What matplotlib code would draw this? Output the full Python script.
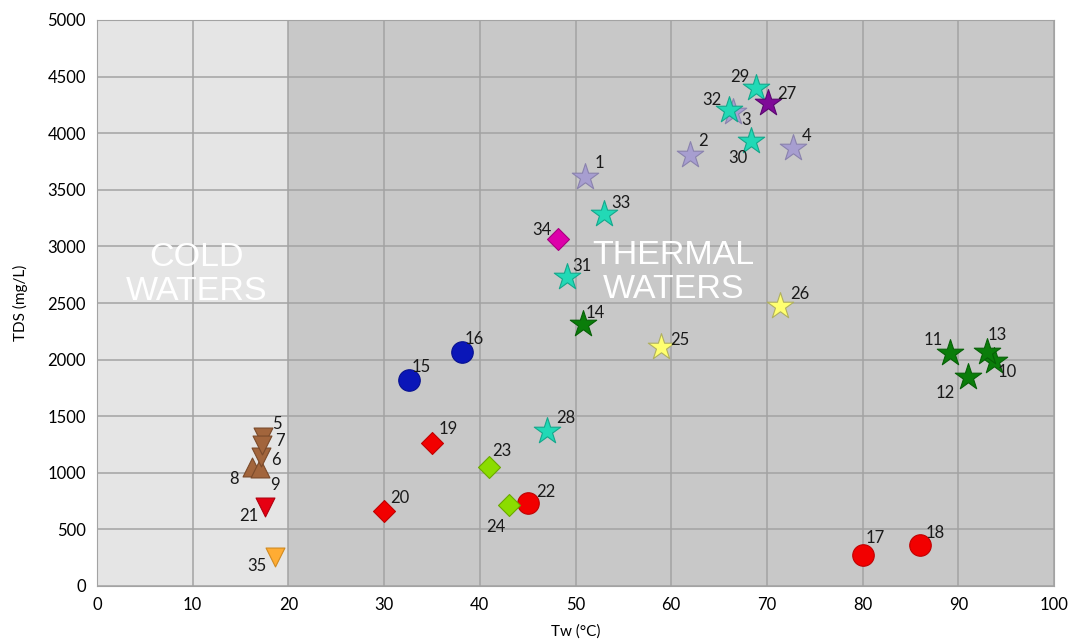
import matplotlib
matplotlib.use("Agg")
import matplotlib.pyplot as plt

# ---- data ----
sample_ids = [1, 2, 3, 4, 5, 6, 7, 8, 9, 10, 11, 12, 13, 14, 15, 16, 17, 18,
              19, 20, 21, 22, 23, 24, 25, 26, 27, 28, 29, 30, 31, 32, 33, 34, 35]
tw = [51.0, 62.0, 66.5, 72.7, 17.3, 17.1, 17.2, 16.2, 17.0, 93.7, 89.1, 91.0,
      93.0, 50.8, 32.6, 38.1, 80.0, 86.0, 35.0, 30.0, 17.6, 45.0, 41.0, 43.1,
      58.9, 71.4, 70.1, 47.0, 68.9, 68.3, 49.1, 66.0, 53.0, 48.2, 18.6]
tds = [3610, 3807, 4190, 3867, 1320, 1140, 1245, 1054, 1040, 1990, 2061, 1843,
       2070, 2314, 1820, 2070, 274, 362, 1266, 665, 700, 736, 1054, 716,
       2111, 2473, 4264, 1372, 4397, 3931, 2732, 4205, 3286, 3063, 259]
group = ["lav", "lav", "lav", "lav", "brown_dn", "brown_dn", "brown_dn", "brown_up",
         "brown_up", "green_star", "green_star", "green_star", "green_star",
         "green_star", "blue_circ", "blue_circ", "red_circ", "red_circ",
         "red_diam", "red_diam", "red_tri", "red_circ", "lime_diam", "lime_diam",
         "yellow_star", "yellow_star", "purple_star", "teal", "teal", "teal",
         "teal", "teal", "teal", "magenta_diam", "orange_tri"]

x_ticks = [0, 10, 20, 30, 40, 50, 60, 70, 80, 90, 100]
y_ticks = [0, 500, 1000, 1500, 2000, 2500, 3000, 3500, 4000, 4500, 5000]

# ---- styles ----
styles = {
    "lav":          dict(marker="*", s=400, fc="#a79ed0", ec="#8a82ad"),
    "teal":         dict(marker="*", s=400, fc="#22d9b6", ec="#14a88c"),
    "green_star":   dict(marker="*", s=400, fc="#0a7d0a", ec="#066006"),
    "yellow_star":  dict(marker="*", s=400, fc="#ffff70", ec="#b0b060"),
    "purple_star":  dict(marker="*", s=400, fc="#7f0a98", ec="#5a0670"),
    "blue_circ":    dict(marker="o", s=240, fc="#0a16b8", ec="#061090"),
    "red_circ":     dict(marker="o", s=240, fc="#f20000", ec="#c00000"),
    "red_diam":     dict(marker="D", s=125, fc="#f20000", ec="#c00000"),
    "lime_diam":    dict(marker="D", s=125, fc="#8bdc00", ec="#6aa800"),
    "magenta_diam": dict(marker="D", s=125, fc="#dd00aa", ec="#a80080"),
    "red_tri":      dict(marker="v", s=185, fc="#e60012", ec="#b0000e"),
    "orange_tri":   dict(marker="v", s=185, fc="#ffac33", ec="#d08a20"),
    "brown_dn":     dict(marker="v", s=185, fc="#a2653c", ec="#7a4a2a"),
    "brown_up":     dict(marker="^", s=185, fc="#a2653c", ec="#7a4a2a"),
}
draw_order = ["brown_up", "brown_dn", "red_tri", "orange_tri", "blue_circ",
              "red_circ", "red_diam", "lime_diam", "magenta_diam", "lav",
              "green_star", "yellow_star", "teal", "purple_star"]

# label offsets in points (dx, dy)
label_off = {1: (10, 10), 2: (9, 10), 3: (9, -6), 4: (10, 9), 5: (10, 9),
             6: (11, -2), 7: (13, 3), 8: (-13, -9), 9: (11, -12), 10: (10, -8),
             11: (-12, 9), 12: (-16, -11), 13: (7, 12), 14: (9, 8), 15: (9, 9),
             16: (9, 9), 17: (9, 12), 18: (11, 9), 19: (12, 10), 20: (11, 9),
             21: (-12, -7), 22: (13, 8), 23: (9, 11), 24: (-10, -16), 25: (14, 5),
             26: (14, 9), 27: (14, 7), 28: (14, 9), 29: (-12, 8), 30: (-9, -12),
             31: (11, 8), 32: (-12, 7), 33: (12, 8), 34: (-12, 7), 35: (-13, -7)}

plt.rcParams["font.family"] = ["Lato", "DejaVu Sans"]

fig = plt.figure(figsize=(10.70, 6.41), dpi=100)
ax = fig.add_axes([97 / 1070, 55 / 641, (1054 - 97) / 1070, (586 - 20) / 641])

ax.set_xlim(0, 100)
ax.set_ylim(0, 5000)
ax.axvspan(0, 20, color="#e5e5e5", zorder=0, lw=0)
ax.axvspan(20, 100, color="#c8c8c8", zorder=0, lw=0)
ax.set_xticks(x_ticks)
ax.set_yticks(y_ticks)
ax.grid(True, color="#a3a3a3", lw=1.1, zorder=1)
ax.set_axisbelow(True)
for sp in ax.spines.values():
    sp.set_color("#a3a3a3")
ax.tick_params(axis="both", length=0, labelsize=12, colors="black", pad=8)

for g in draw_order:
    xs = [tw[i] for i in range(len(tw)) if group[i] == g]
    ys = [tds[i] for i in range(len(tw)) if group[i] == g]
    st = styles[g]
    ax.scatter(xs, ys, marker=st["marker"], s=st["s"], facecolor=st["fc"],
               edgecolor=st["ec"], linewidth=0.8, zorder=3)

for i, sid in enumerate(sample_ids):
    dx, dy = label_off[sid]
    ax.annotate(str(sid), (tw[i], tds[i]), xytext=(dx, dy), textcoords="offset points",
                ha="center", va="center", fontsize=12, color="#1a1a1a", zorder=4)

ax.text(10.4, 2750, "COLD\nWATERS", color="white", fontsize=24.5, ha="center",
        va="center", family="Liberation Sans", linespacing=1.1, zorder=2)
ax.text(60.2, 2770, "THERMAL\nWATERS", color="white", fontsize=24.5, ha="center",
        va="center", family="Liberation Sans", linespacing=1.1, zorder=2)

ax.set_xlabel("Tw (°C)", fontsize=11, labelpad=8)
ax.set_ylabel("TDS (mg/L)", fontsize=11, labelpad=14)

fig.savefig("out.png", dpi=100)
